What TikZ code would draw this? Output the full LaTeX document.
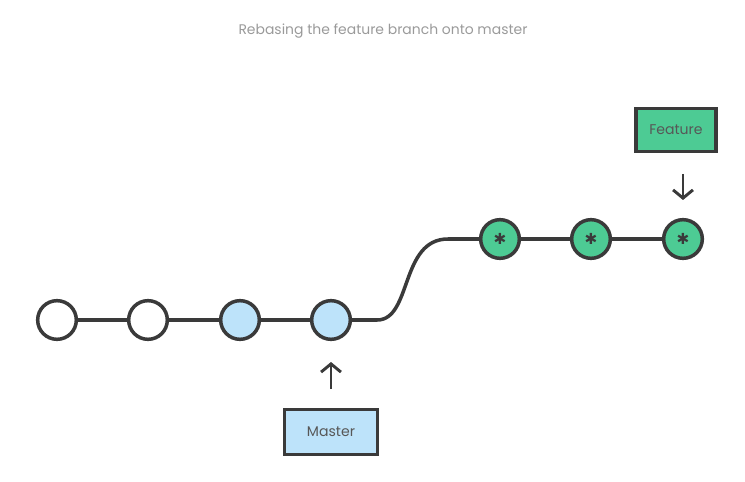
\documentclass[tikz,border=0pt]{standalone}
\usepackage{fontspec}
\setmainfont{Poppins}
\newfontfamily\symfont{DejaVu Sans}
\usetikzlibrary{arrows.meta}

\definecolor{edgegray}{HTML}{3A3A3A}
\definecolor{masterblue}{HTML}{BDE3FA}
\definecolor{featuregreen}{HTML}{4DCB94}
\definecolor{titlegray}{HTML}{9A9A9A}

\tikzset{
    commit/.style={circle, draw=edgegray, line width=3pt, minimum size=33pt, inner sep=0pt},
    oldcommit/.style={commit, fill=white},
    basecommit/.style={commit, fill=masterblue},
    featcommit/.style={commit, fill=featuregreen, font=\symfont\bfseries\fontsize{13}{13}\selectfont, text=edgegray},
    branchlabel/.style={draw=edgegray, line width=3pt, minimum width=68pt, minimum height=37pt, font=\fontsize{12}{14}\selectfont, text=edgegray!85},
    history/.style={draw=edgegray, line width=3pt},
    pointer/.style={draw=edgegray, line width=2.5pt, -{Straight Barb[length=7pt, width=17pt]}}
}

\begin{document}
\begin{tikzpicture}[x=0.03cm, y=-0.03cm]
    \useasboundingbox (0,0) rectangle (745,482);

    \node[font=\fontsize{11.9}{14}\selectfont, text=titlegray] (title) at (383,31) {Rebasing the feature branch onto master};

    % master history
    \node[oldcommit] (c1) at (57,320) {};
    \node[oldcommit] (c2) at (148,320) {};
    \node[basecommit] (c3) at (240,320) {};
    \node[basecommit] (c4) at (331,320) {};

    % rebased feature commits
    \node[featcommit] (f1) at (500,239) {✱};
    \node[featcommit] (f2) at (591,239) {✱};
    \node[featcommit] (f3) at (683,239) {✱};

    \draw[history] (c1) -- (c2);
    \draw[history] (c2) -- (c3);
    \draw[history] (c3) -- (c4);
    \draw[history] (c4.east) -- ++(25,0) .. controls (412,320) and (400,239) .. (448,239) -- (f1.west);
    \draw[history] (f1) -- (f2);
    \draw[history] (f2) -- (f3);

    % branch labels
    \node[branchlabel, fill=featuregreen] (feature) at (676,130) {Feature};
    \node[branchlabel, fill=masterblue, minimum width=79pt, minimum height=38pt] (master) at (331,432) {Master};

    \coordinate (featuretip) at (683,174);
    \coordinate (mastertip) at (331,389);
    \draw[pointer] (featuretip) -- ++(0,26);
    \draw[pointer] (mastertip) -- ++(0,-27);
\end{tikzpicture}
\end{document}
